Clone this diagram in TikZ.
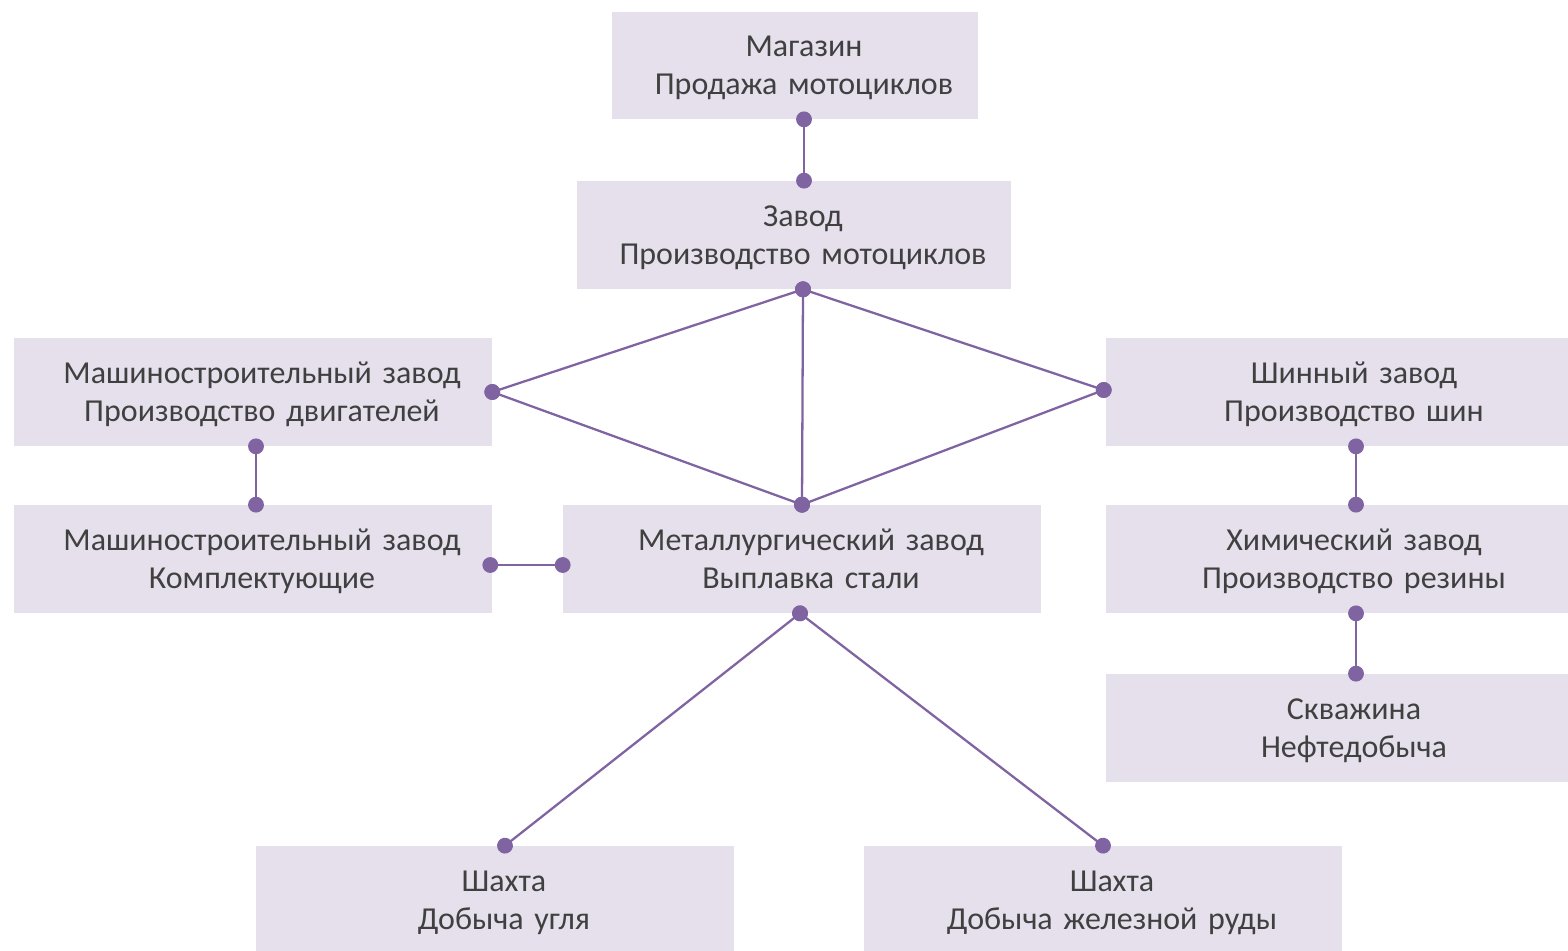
\documentclass[tikz,border=0pt]{standalone}
\usepackage{fontspec}
\setmainfont{Carlito}
\usetikzlibrary{arrows.meta,calc}
\definecolor{boxbg}{HTML}{E5E0EC}
\definecolor{linkc}{HTML}{8064A2}
\definecolor{textc}{HTML}{404040}

\begin{document}
\begin{tikzpicture}[
    x=0.02cm, y=-0.02cm,
    every node/.style={font=\fontsize{18.2pt}{21.6pt}\selectfont, text=textc},
    box/.style={fill=boxbg, align=center, inner sep=0pt, text width=9.56cm, minimum height=2.16cm,
        execute at begin node={\leftskip=0.36cm plus 1fil\rightskip=0pt plus 1fil\rule{0pt}{18.4pt}},
        execute at end node={\rule[-6.5pt]{0pt}{0pt}}},
    link/.style={{Circle[length=9pt]}-{Circle[length=9pt]}, draw=linkc, fill=linkc, line width=1.3pt, shorten <=-4.5pt, shorten >=-4.5pt}
]
\useasboundingbox (0,0) rectangle (1568,950);
% top chain
\node[box, text width=7.32cm, minimum height=2.14cm] (shop) at (795,65.5) {Магазин\\Продажа мотоциклов};
\node[box, text width=8.68cm] (plant) at (794,235) {Завод\\Производство мотоциклов};
% suppliers
\node[box] (engine) at (253,392) {Машиностроительный завод\\Производство двигателей};
\node[box] (parts) at (253,559) {Машиностроительный завод\\Комплектующие};
\node[box] (steel) at (802,559) {Металлургический завод\\Выплавка стали};
\node[box] (tyre) at (1345,392) {Шинный завод\\Производство шин};
\node[box] (rubber) at (1345,559) {Химический завод\\Производство резины};
\node[box] (well) at (1345,728) {Скважина\\Нефтедобыча};
\node[box] (coal) at (495,900) {Шахта\\Добыча угля};
\node[box] (ore) at (1103,900) {Шахта\\Добыча железной руды};

\draw[link] ($(shop.south)+(9,0)$) -- ($(plant.north)+(10,0)$);
\draw[link] ($(plant.south)+(9,0)$) -- (engine.east);
\draw[link] ($(plant.south)+(9,0)$) -- (steel.north);
\draw[link] ($(plant.south)+(9,0)$) -- ($(tyre.west)+(-2,-2)$);
\draw[link] (engine.east) -- (steel.north);
\draw[link] ($(tyre.west)+(-2,-2)$) -- (steel.north);
\draw[link] ($(engine.south)+(3,0)$) -- ($(parts.north)+(3,0)$);
\draw[link] ($(parts.east)+(-2,6)$) -- ($(steel.west)+(0,6)$);
\draw[link] ($(tyre.south)+(11,0)$) -- ($(rubber.north)+(11,0)$);
\draw[link] ($(rubber.south)+(11,0)$) -- ($(well.north)+(11,0)$);
\draw[link] ($(steel.south)+(-2,0)$) -- ($(coal.north)+(10,0)$);
\draw[link] ($(steel.south)+(-2,0)$) -- (ore.north);
\end{tikzpicture}
\end{document}
